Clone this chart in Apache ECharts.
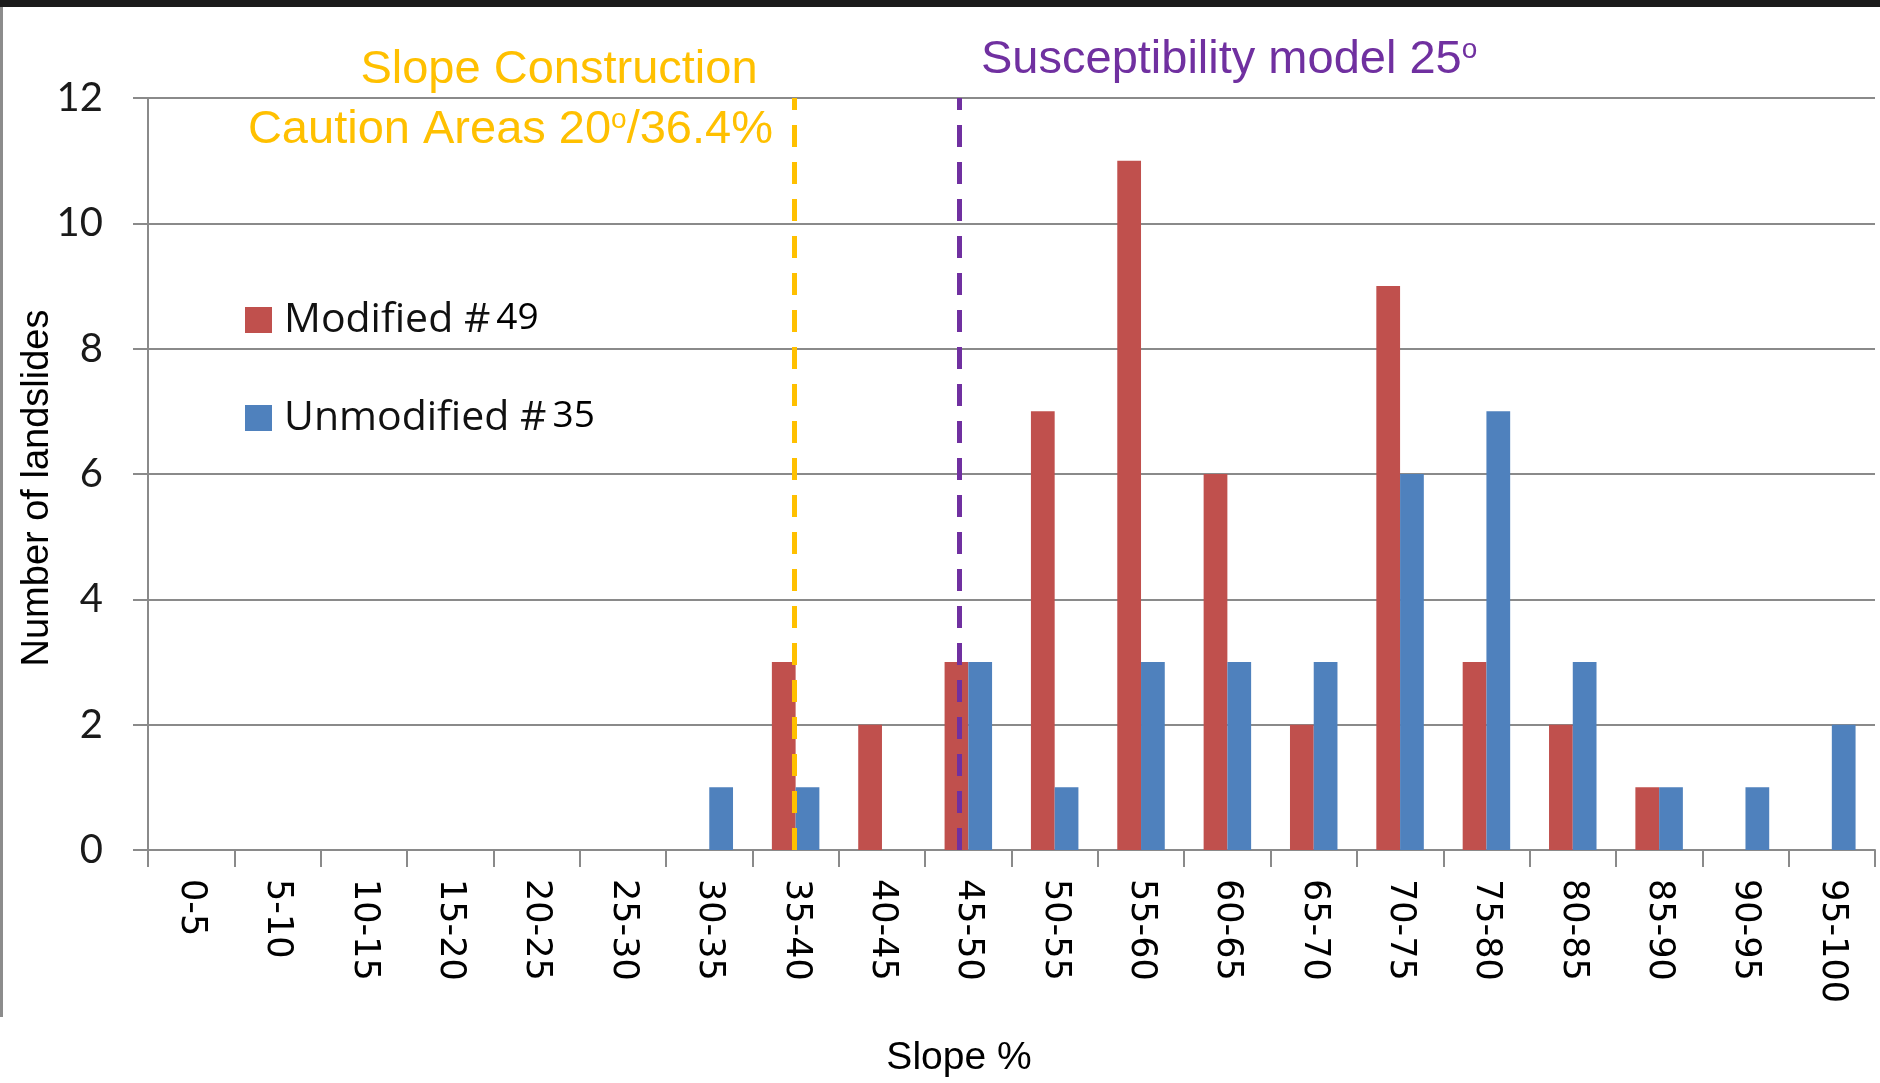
<!DOCTYPE html>
<html>
<head>
<meta charset="utf-8">
<title>Landslides by slope</title>
<script src="https://cdn.jsdelivr.net/npm/echarts@6/dist/echarts.min.js"></script>
<style>
  html, body { margin: 0; padding: 0; background: #fff; }
  #chart { width: 1880px; height: 1083px; }
</style>
</head>
<body>
<div id="chart"></div>
<script>
// slope classes (%)
var slopeBins = ['0-5', '5-10', '10-15', '15-20', '20-25', '25-30', '30-35', '35-40', '40-45', '45-50',
  '50-55', '55-60', '60-65', '65-70', '70-75', '75-80', '80-85', '85-90', '90-95', '95-100'];
var modified   = [0, 0, 0, 0, 0, 0, 0, 3, 2, 3, 7, 11, 6, 2, 9, 3, 2, 1, 0, 0];
var unmodified = [0, 0, 0, 0, 0, 0, 1, 1, 0, 3, 1, 3, 3, 3, 6, 7, 3, 1, 1, 2];
var seriesNames = ['Modified #', 'Unmodified #'];
var seriesCounts = [49, 35];
var yTicks = [0, 2, 4, 6, 8, 10, 12];
// threshold lines, in slope % as drawn on the picture
var cautionSlope = 37.4;
var modelSlope = 47.0;

var chart = echarts.init(document.getElementById('chart'));

var option = {
  backgroundColor: '#fff',
  animation: false,
  grid: { left: 148, right: 5, top: 98, bottom: 233, containLabel: false },
  legend: {
    orient: 'vertical',
    left: 240,
    top: 294,
    itemWidth: 27,
    itemHeight: 26,
    itemGap: 56,
    icon: 'rect',
    data: seriesNames,
    formatter: function (name) {
      return name + '{n|' + seriesCounts[seriesNames.indexOf(name)] + '}';
    },
    textStyle: {
      fontFamily: 'Open Sans',
      fontSize: 41,
      lineHeight: 42,
      color: '#111',
      padding: [0, 0, 0, 7],
      rich: {
        n: { fontFamily: 'Open Sans', fontSize: 37, color: '#000', padding: [0, 0, 4, 6] }
      }
    }
  },
  xAxis: [{
    type: 'category',
    data: slopeBins,
    axisLine: { lineStyle: { color: '#8a8a8a', width: 2 } },
    axisTick: { show: true, length: 17, interval: 0, lineStyle: { color: '#8a8a8a', width: 2 } },
    axisLabel: {
      interval: 0,
      rotate: -90,
      margin: 29,
      fontFamily: 'DejaVu Sans',
      fontSize: 35,
      color: '#000'
    }
  }, {
    type: 'value',
    min: 0,
    max: 100,
    show: false
  }],
  yAxis: {
    type: 'value',
    min: 0,
    max: 12,
    interval: 2,
    axisLine: { show: true, lineStyle: { color: '#8a8a8a', width: 2 } },
    axisTick: { show: true, length: 15, lineStyle: { color: '#8a8a8a', width: 2 } },
    splitLine: { lineStyle: { color: '#8a8a8a', width: 2 } },
    axisLabel: {
      margin: 45,
      fontFamily: 'Lato',
      fontSize: 40,
      color: '#1a1a1a',
      formatter: function (v) { return yTicks.indexOf(v) >= 0 ? String(v) : ''; }
    }
  },
  series: [
    {
      name: seriesNames[0],
      type: 'bar',
      data: modified,
      barGap: '0%',
      barCategoryGap: '45%',
      itemStyle: { color: '#C0504D' }
    },
    {
      name: seriesNames[1],
      type: 'bar',
      data: unmodified,
      barGap: '0%',
      barCategoryGap: '45%',
      itemStyle: { color: '#4F81BD' }
    },
    {
      name: 'thresholds',
      type: 'line',
      xAxisIndex: 1,
      data: [],
      silent: true,
      markLine: {
        silent: true,
        symbol: 'none',
        label: { show: false },
        data: [
          { xAxis: cautionSlope, lineStyle: { color: '#FFC000', width: 5, type: [22, 15] } },
          { xAxis: modelSlope, lineStyle: { color: '#7030A0', width: 5, type: [22, 15] } }
        ]
      }
    }
  ],
  graphic: [
    { type: 'rect', shape: { x: 0, y: 0, width: 1880, height: 7 }, style: { fill: '#1b1b1b' }, silent: true },
    { type: 'rect', shape: { x: 0, y: 7, width: 3, height: 1010 }, style: { fill: '#8c8c8c' }, silent: true },
    {
      type: 'text', x: 559, y: 70, silent: true,
      style: { text: 'Slope Construction', fill: '#FFC000', font: '47px "Liberation Sans"', align: 'center', verticalAlign: 'middle' }
    },
    {
      type: 'text', x: 773, y: 130, silent: true,
      style: {
        text: 'Caution Areas 20{s|o}/36.4%',
        fill: '#FFC000', font: '47px "Liberation Sans"', align: 'right', verticalAlign: 'middle',
        rich: { s: { fill: '#FFC000', font: '28px "Liberation Sans"', verticalAlign: 'top', padding: [0, 0, 18, 0] } }
      }
    },
    {
      type: 'text', x: 981, y: 60, silent: true,
      style: {
        text: 'Susceptibility model 25{s|o}',
        fill: '#7030A0', font: '47px "Liberation Sans"', align: 'left', verticalAlign: 'middle',
        rich: { s: { fill: '#7030A0', font: '28px "Liberation Sans"', verticalAlign: 'top', padding: [0, 0, 18, 0] } }
      }
    },
    {
      type: 'text', x: 38, y: 488, rotation: Math.PI / 2, silent: true,
      style: { text: 'Number of landslides', fill: '#000', font: '38px "Liberation Sans"', align: 'center', verticalAlign: 'middle' }
    },
    {
      type: 'text', x: 959, y: 1058, silent: true,
      style: { text: 'Slope %', fill: '#000', font: '39px "Liberation Sans"', align: 'center', verticalAlign: 'middle' }
    }
  ]
};

chart.setOption(option);
</script>
</body>
</html>
